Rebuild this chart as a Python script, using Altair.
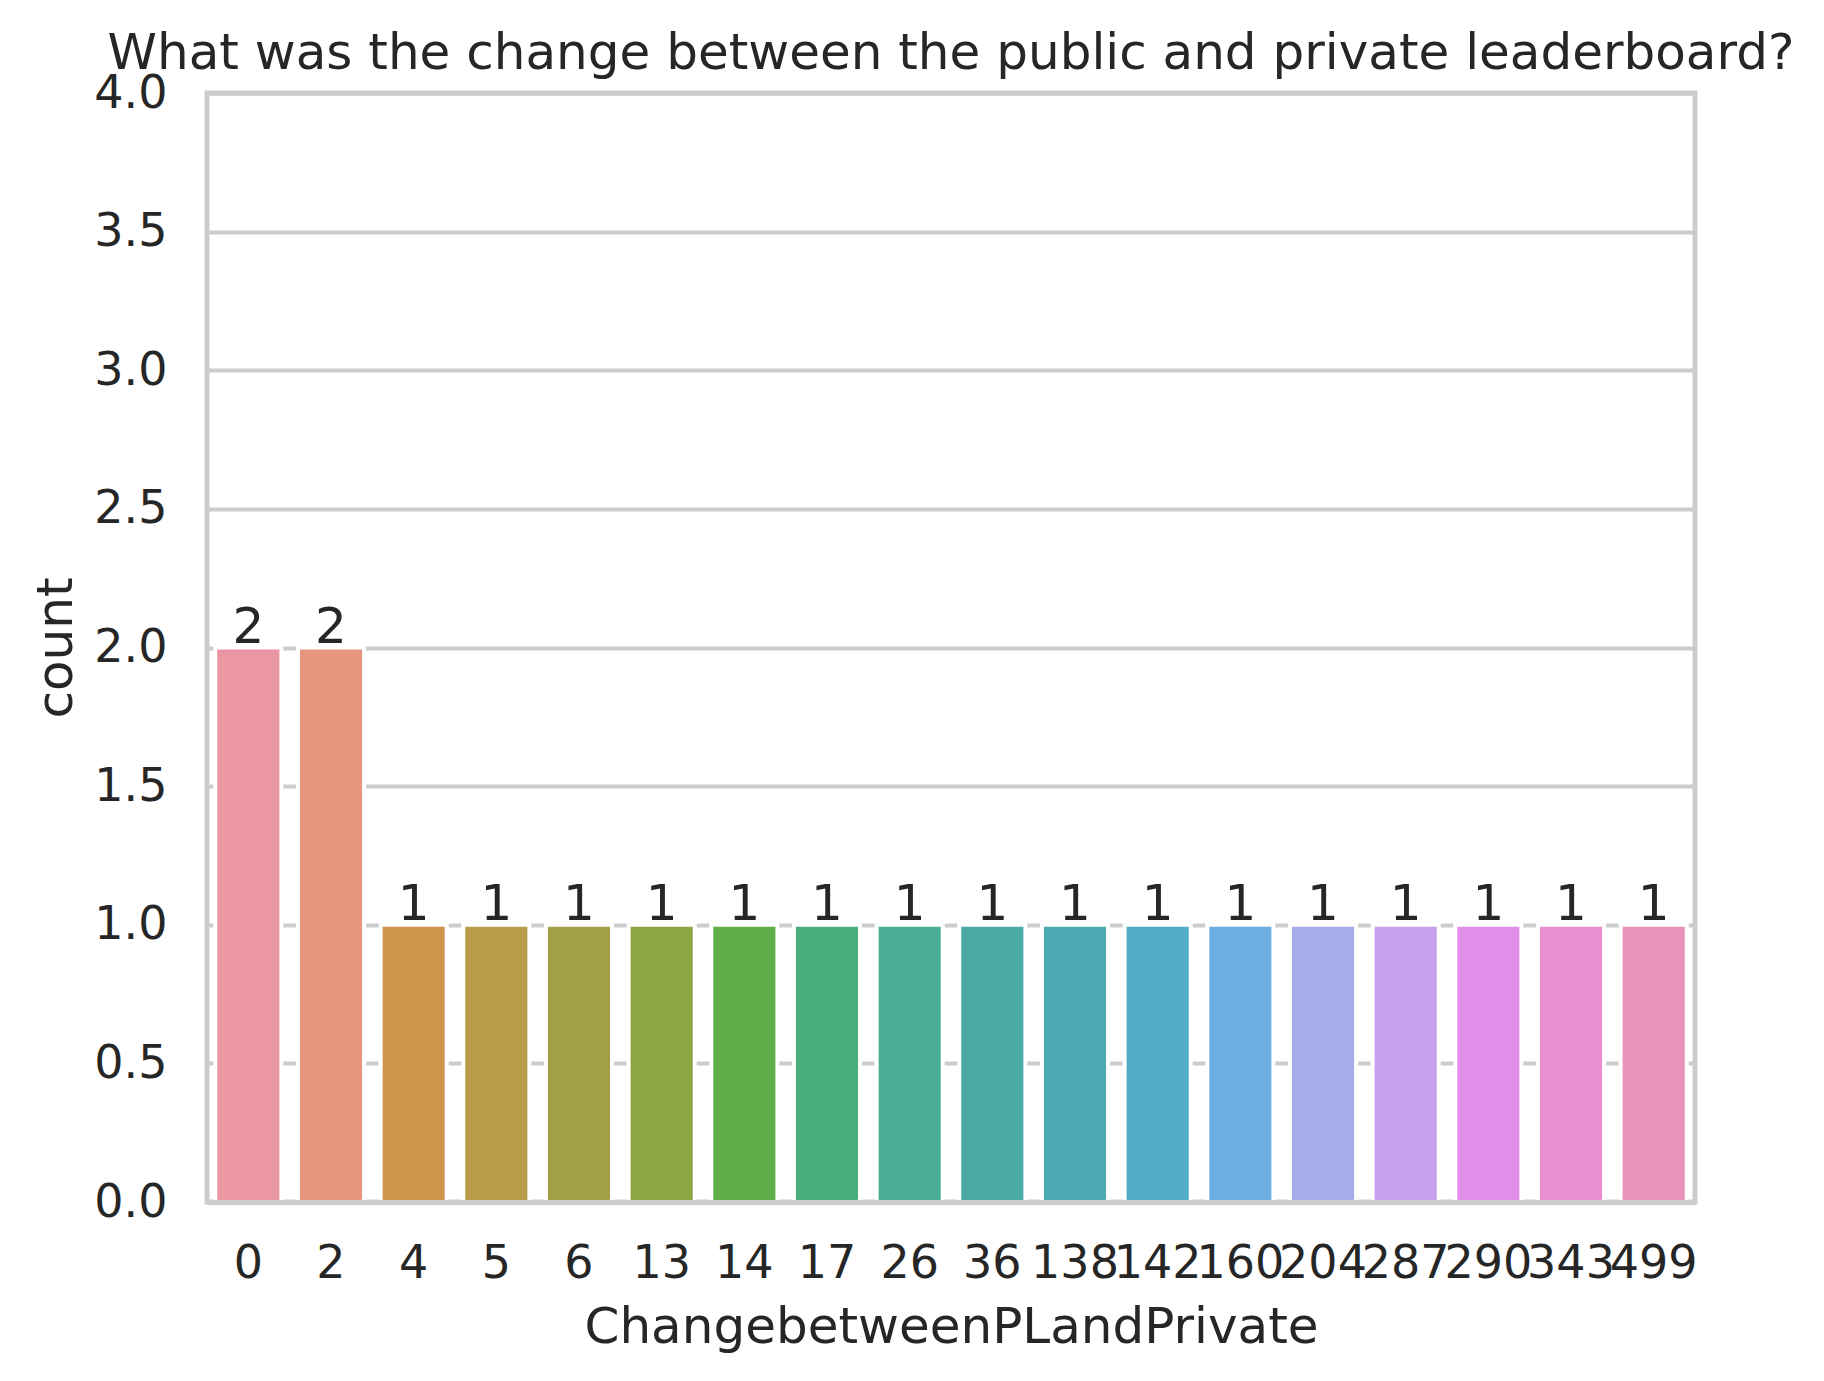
import math
import colorsys
import altair as alt
import pandas as pd

# ---- data ----
changes = ["0", "2", "4", "5", "6", "13", "14", "17", "26", "36",
           "138", "142", "160", "204", "287", "290", "343", "499"]
counts = [2, 2, 1, 1, 1, 1, 1, 1, 1, 1, 1, 1, 1, 1, 1, 1, 1, 1]
y_ticks = [0.0, 0.5, 1.0, 1.5, 2.0, 2.5, 3.0, 3.5, 4.0]

# ---- seaborn-like husl palette (l=.7, desaturated .75) ----
_M = [[3.2406, -1.5372, -0.4986],
      [-0.9689, 1.8758, 0.0415],
      [0.0557, -0.2040, 1.0570]]
_refU, _refV = 0.19784, 0.46834


def _max_chroma(L, H):
    hrad = math.radians(H)
    sinH, cosH = math.sin(hrad), math.cos(hrad)
    sub1 = math.pow(L + 16, 3.0) / 1560896.0
    sub2 = sub1 if sub1 > 0.008856 else (L / 903.3)
    result = float("inf")
    for m1, m2, m3 in _M:
        top = (0.99915 * m1 + 1.05122 * m2 + 1.14460 * m3) * sub2
        rbottom = 0.86330 * m3 - 0.17266 * m2
        lbottom = 0.12949 * m3 - 0.38848 * m1
        bottom = (rbottom * sinH + lbottom * cosH) * sub2
        for t in (0.0, 1.0):
            C = L * (top - 1.05122 * t) / (bottom + 0.17266 * sinH * t)
            if 0.0 < C < result:
                result = C
    return result


def _husl_to_rgb(H, S, L):
    C = _max_chroma(L, H) / 100.0 * S
    U = math.cos(math.radians(H)) * C
    V = math.sin(math.radians(H)) * C
    t = (L + 16.0) / 116.0
    Y = t ** 3 if t ** 3 > 0.008856 else (116.0 * t - 16.0) / 903.3
    vu = U / (13.0 * L) + _refU
    vv = V / (13.0 * L) + _refV
    X = 0.0 - (9.0 * Y * vu) / ((vu - 4.0) * vv - vu * vv)
    Z = (9.0 * Y - (15.0 * vv * Y) - (vv * X)) / (3.0 * vv)
    out = []
    for row in _M:
        c = row[0] * X + row[1] * Y + row[2] * Z
        c = 12.92 * c if c <= 0.0031308 else 1.055 * math.pow(c, 1 / 2.4) - 0.055
        out.append(min(1.0, max(0.0, c)))
    return out


def _palette(n):
    cols = []
    for i in range(n):
        h = ((i / n) + 0.01) % 1 * 359
        r, g, b = _husl_to_rgb(h, 0.9 * 99, 0.7 * 99)
        hh, ll, ss = colorsys.rgb_to_hls(r, g, b)
        r, g, b = colorsys.hls_to_rgb(hh, ll, ss * 0.75)
        cols.append("#%02x%02x%02x" % (round(r * 255), round(g * 255), round(b * 255)))
    return cols


colors = _palette(len(changes))

df = pd.DataFrame({"change": changes, "count": counts})

FONT = "DejaVu Sans"
TXT = "#262626"
GRID = "#cccccc"
W, H = 1488, 1109

x_enc = alt.X(
    "change:N",
    sort=changes,
    scale=alt.Scale(paddingInner=0.2, paddingOuter=0.1),
    axis=alt.Axis(
        title="ChangebetweenPLandPrivate",
        labelAngle=0,
        labelFont=FONT, labelFontSize=46, labelColor=TXT,
        labelBaseline="alphabetic", labelPadding=75,
        labelOverlap=False,
        ticks=False, tickSize=0,
        domain=True, domainColor=GRID, domainWidth=5,
        grid=False,
        titleFont=FONT, titleFontSize=50, titleColor=TXT,
        titleFontWeight="normal", titleBaseline="alphabetic",
        titleX=W / 2, titleY=140, titleAlign="center",
        zindex=1,
    ),
)

y_axis = alt.Axis(
    title="count",
    values=y_ticks, format=".1f",
    labelFont=FONT, labelFontSize=46, labelColor=TXT,
    labelPadding=40,
    ticks=False, tickSize=0,
    domain=False,
    grid=True, gridColor=GRID, gridWidth=4,
    titleFont=FONT, titleFontSize=50, titleColor=TXT,
    titleFontWeight="normal", titleBaseline="alphabetic",
    titleAngle=-90, titleAlign="center",
    titleX=-136, titleY=H / 2,
)

bars = alt.Chart(df).mark_bar(stroke="white", strokeWidth=4).encode(
    x=x_enc,
    y=alt.Y("count:Q", scale=alt.Scale(domain=[0, 4], nice=False), axis=y_axis),
    color=alt.Color("change:N", scale=alt.Scale(domain=changes, range=colors), legend=None),
)

labels = alt.Chart(df).mark_text(
    font=FONT, fontSize=50, color=TXT, baseline="alphabetic", align="center", dy=-5
).encode(
    x=alt.X("change:N", sort=changes),
    y=alt.Y("count:Q"),
    text=alt.Text("count:Q"),
)

chart = alt.layer(bars, labels).properties(
    width=W,
    height=H,
    title=alt.TitleParams(
        text="What was the change between the public and private leaderboard?",
        font=FONT, fontSize=50, color=TXT, fontWeight="normal",
        anchor="middle", frame="group", baseline="alphabetic", offset=2, dy=51,
    ),
    autosize=alt.AutoSizeParams(type="none"),
    padding={"left": 199, "top": 85, "right": 110, "bottom": 160},
).configure(
    background="white"
).configure_view(
    stroke=GRID, strokeWidth=5
)

chart.save("out.html", embed_options={"renderer": "svg", "actions": False})
